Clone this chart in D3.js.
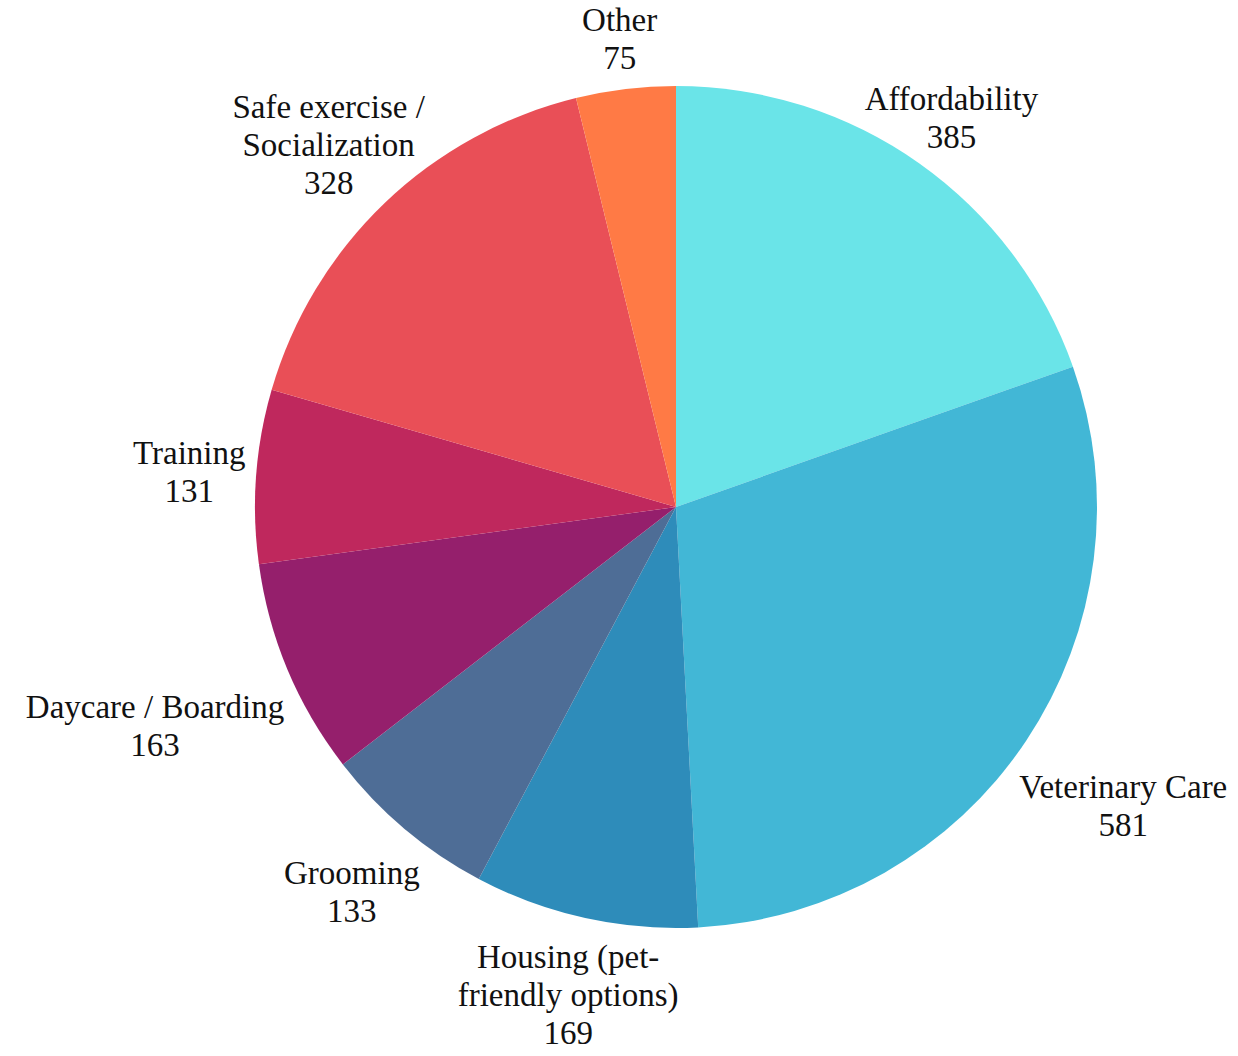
<!DOCTYPE html>
<html>
<head>
<meta charset="utf-8">
<script src="https://cdn.jsdelivr.net/npm/d3@7"></script>
<style>
  body { margin: 0; background: #fff; }
  text { font-family: "Liberation Serif", "Times New Roman", serif; fill: #111; }
</style>
</head>
<body>
<script>
// Data
const categories = ["Affordability", "Veterinary Care", "Housing (pet-\nfriendly options)", "Grooming",
                    "Daycare / Boarding", "Training", "Safe exercise /\nSocialization", "Other"];
const counts = [385, 581, 169, 133, 163, 131, 328, 75];
const colors = ["#6ae4e8", "#42b7d6", "#2e8cba", "#4e6d96", "#951f6c", "#bf285d", "#e94f57", "#ff7a45"];

function draw(){
    const width = 1238,
          height = 1056,
          cx = 676,
          cy = 507,
          radius = 421,
          fontSize = 33,
          lineH = 38,
          pad = 10;

    const data = categories.map((c, i) => ({name: c, value: counts[i], color: colors[i]}));

    // Create SVG element
    const svg = d3.select('body')
        .append('svg')
        .attr('width', width)
        .attr('height', height);

    const g = svg.append('g')
        .attr('transform', "translate(" + cx + "," + cy + ")");

    const pie = d3.pie()
        .sort(null)
        .value(d => d.value);

    const arc = d3.arc()
        .innerRadius(0)
        .outerRadius(radius);

    const arcs = pie(data);

    // Slices
    g.selectAll('path')
        .data(arcs)
        .enter()
        .append('path')
        .attr('d', arc)
        .attr('fill', d => d.data.color);

    // Labels
    const labels = g.selectAll('text.label')
        .data(arcs)
        .enter()
        .append('text')
        .attr('class', 'label')
        .attr('text-anchor', 'middle')
        .attr('dominant-baseline', 'central')
        .style('font-size', fontSize + 'px');

    labels.each(function(d){
        const t = d3.select(this);
        const lines = d.data.name.split("\n").concat([String(d.data.value)]);
        const n = lines.length;
        const spans = lines.map(l => t.append('tspan').text(l));
        const widths = spans.map(s => s.node().getComputedTextLength());

        const a = (d.startAngle + d.endAngle) / 2;
        const dx = Math.sin(a), dy = -Math.cos(a);

        // push the label out along the mid angle until no line touches the pie
        let L = radius;
        for (; L < radius + 400; L += 1) {
            const px = L * dx, py = L * dy;
            let minDist = Infinity;
            lines.forEach((l, i) => {
                const ly = py + (i - (n - 1) / 2) * lineH;
                const x0 = px - widths[i] / 2, x1 = px + widths[i] / 2;
                const y0 = ly - lineH / 2, y1 = ly + lineH / 2;
                const nx = Math.max(x0, Math.min(0, x1));
                const ny = Math.max(y0, Math.min(0, y1));
                minDist = Math.min(minDist, Math.hypot(nx, ny));
            });
            if (minDist >= radius + pad) break;
        }

        const px = L * dx, py = L * dy;
        spans.forEach((s, i) => {
            s.attr('x', px)
             .attr('y', py + (i - (n - 1) / 2) * lineH);
        });
    });
}

draw();
</script>
</body>
</html>
